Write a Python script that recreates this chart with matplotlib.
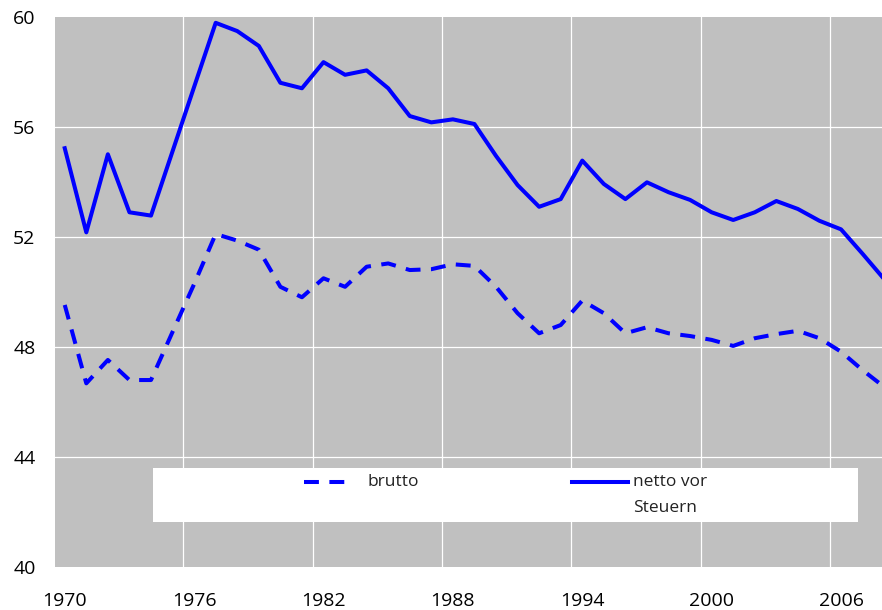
import matplotlib.pyplot as plt
from matplotlib.patches import Rectangle
from matplotlib.lines import Line2D

years = list(range(1970, 2009))

brutto = [49.54, 46.69, 47.54, 46.81, 46.81, 48.56, 50.30, 52.12, 51.88, 51.55,
          50.20, 49.82, 50.51, 50.20, 50.93, 51.05, 50.81, 50.84, 51.02, 50.96,
          50.20, 49.24, 48.51, 48.81, 49.70, 49.24, 48.51, 48.73, 48.51, 48.41,
          48.27, 48.05, 48.33, 48.48, 48.60, 48.33, 47.84, 47.17, 46.56]

netto = [55.24, 52.18, 55.02, 52.91, 52.79, 55.13, 57.47, 59.80, 59.50, 58.96,
         57.62, 57.42, 58.37, 57.91, 58.07, 57.42, 56.41, 56.18, 56.29, 56.12,
         54.96, 53.90, 53.11, 53.39, 54.79, 53.94, 53.39, 54.00, 53.64, 53.36,
         52.91, 52.63, 52.91, 53.32, 53.03, 52.60, 52.29, 51.40, 50.48]

xtick_years = [1970, 1976, 1982, 1988, 1994, 2000, 2006]
yticks = [40, 44, 48, 52, 56, 60]
labels = ['brutto', 'netto vor\nSteuern']

plt.rcParams['font.family'] = ['Open Sans', 'DejaVu Sans']

fig = plt.figure(figsize=(8.82, 6.10), dpi=100)
ax = fig.add_axes([0.0624, 0.07, 0.9376, 0.9016])
ax.set_facecolor('#c0c0c0')

# gridlines sit on the category boundaries, like in the spreadsheet original
for y in yticks[1:-1]:
    ax.axhline(y, color='white', lw=0.9, zorder=1)
for yr in xtick_years[1:]:
    ax.axvline(yr - 0.5, color='white', lw=0.9, zorder=1)

dash = (3.7, 2.6)
ax.plot(years, brutto, color='#0000ff', lw=2.9, dashes=dash,
        dash_capstyle='butt', zorder=3)
ax.plot(years, netto, color='#0000ff', lw=2.9, zorder=3)

ax.set_xlim(1969.55, 2007.9)
ax.set_ylim(40, 60)
ax.set_xticks(xtick_years)
ax.set_yticks(yticks)
ax.tick_params(axis='both', length=0, labelsize=14, colors='black')
ax.tick_params(axis='x', pad=18)
ax.tick_params(axis='y', pad=14)
for s in ax.spines.values():
    s.set_visible(False)

# legend box (drawn by hand to get the spreadsheet layout)
tr = ax.transAxes
ax.add_patch(Rectangle((0.1185, 0.083), 0.8525, 0.0975, transform=tr,
                       facecolor='white', edgecolor='none', zorder=4))
ax.add_line(Line2D([0.3011, 0.3555], [0.1556, 0.1556], transform=tr,
                   color='#0000ff', lw=2.9, dashes=dash, dash_capstyle='butt',
                   zorder=5))
ax.text(0.3773, 0.1556, labels[0], transform=tr, fontsize=12.5,
        va='center', ha='left', color='#222222', zorder=5)
ax.add_line(Line2D([0.6252, 0.6929], [0.1556, 0.1556], transform=tr,
                   color='#0000ff', lw=2.9, zorder=5))
line1, line2 = labels[1].split('\n')
ax.text(0.6989, 0.1556, line1, transform=tr, fontsize=12.5,
        va='center', ha='left', color='#222222', zorder=5)
ax.text(0.6989, 0.1078, line2, transform=tr, fontsize=12.5,
        va='center', ha='left', color='#222222', zorder=5)

fig.savefig('out.png', dpi=100)
